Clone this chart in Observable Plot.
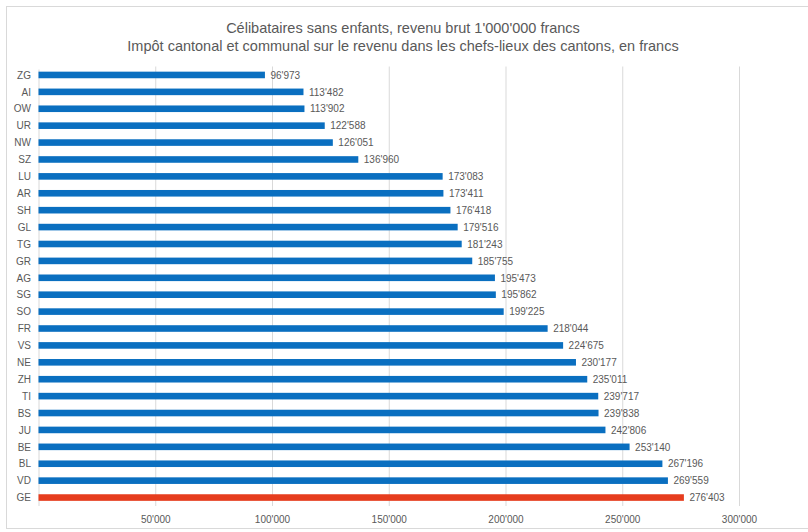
<!DOCTYPE html>
<html>
<head>
<meta charset="utf-8">
<script src="https://cdn.jsdelivr.net/npm/d3@7"></script>
<script src="https://cdn.jsdelivr.net/npm/@observablehq/plot@0.6"></script>
<style>
  html, body { margin: 0; padding: 0; background: #ffffff; }
  body { width: 808px; height: 532px; overflow: hidden; position: relative;
         font-family: "Liberation Sans", "DejaVu Sans", sans-serif; }
  #frame { position: absolute; left: 6px; top: 6px; width: 820px; height: 523px;
           border: 1px solid #d9d9d9; box-sizing: border-box; }
  #titles { position: absolute; left: 0; top: 0; width: 808px; height: 60px;
            color: #595959; font-size: 14.5px; }
  #titles div { position: absolute; left: 0; width: 806px; text-align: center; white-space: nowrap; }
  #chart { position: absolute; left: 0; top: 60px; }
</style>
</head>
<body>
<div id="frame"></div>
<div id="titles">
  <div style="top:20px">Célibataires sans enfants, revenu brut 1'000'000 francs</div>
  <div style="top:38px">Impôt cantonal et communal sur le revenu dans les chefs-lieux des cantons, en francs</div>
</div>
<div id="chart"></div>
<script>
// Cantons, sorted from lowest to highest tax
const cantons = ["ZG","AI","OW","UR","NW","SZ","LU","AR","SH","GL","TG","GR","AG","SG","SO","FR","VS","NE","ZH","TI","BS","JU","BE","BL","VD","GE"];
// Cantonal and communal income tax (francs), gross income 1'000'000
const impots = [96973,113482,113902,122588,126051,136960,173083,173411,176418,179516,181243,185755,195473,195862,199225,218044,224675,230177,235011,239717,239838,242806,253140,267196,269559,276403];
// Axis ticks
const xTicks = [50000,100000,150000,200000,250000,300000];
const highlight = "GE";

const data = cantons.map((c, i) => ({canton: c, impot: impots[i], group: c === highlight ? "highlight" : "other"}));

// Swiss thousands separator
const fmt = v => d3.format(",")(v).replace(/,/g, "'");

const chart = Plot.plot({
  width: 808,
  height: 472,
  marginLeft: 38.5,
  marginRight: 69,
  marginTop: 6.5,
  marginBottom: 26,
  style: {fontFamily: "'Liberation Sans', sans-serif", fontSize: "10px", color: "#595959", background: "transparent"},
  x: {domain: [0, 300000]},
  y: {domain: cantons, paddingInner: 0.61, paddingOuter: 0.305, round: false},
  color: {domain: ["other", "highlight"], range: ["#0a6fc0", "#e63d1e"]},
  marks: [
    Plot.gridX(xTicks, {stroke: "#d9d9d9", strokeOpacity: 1}),
    Plot.ruleX([0], {stroke: "#d9d9d9", strokeOpacity: 1, insetTop: 3}),
    Plot.barX(data, {x: "impot", y: "canton", fill: "group"}),
    Plot.text(data, {x: "impot", y: "canton", text: d => fmt(d.impot), dx: 5, textAnchor: "start", fill: "#595959"}),
    Plot.axisY({tickSize: 0, tickPadding: 8, label: null}),
    Plot.axisX(xTicks, {tickSize: 0, tickPadding: 9, label: null, tickFormat: fmt})
  ]
});
document.getElementById("chart").append(chart);
</script>
</body>
</html>
